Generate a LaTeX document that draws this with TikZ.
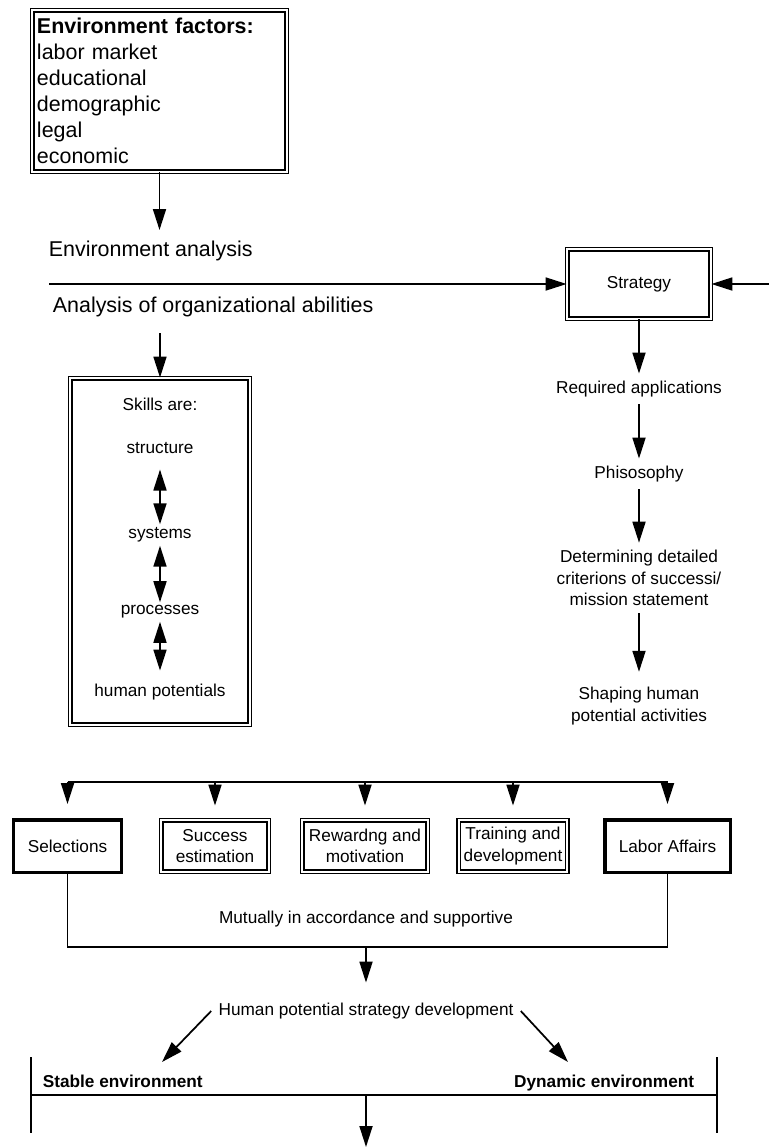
\documentclass[tikz,border=0pt]{standalone}
\usepackage{fontspec}
\setmainfont{Liberation Sans}
\usetikzlibrary{positioning,arrows.meta}

\newcommand{\bigsz}{\fontsize{12.2pt}{14.8pt}\selectfont}
\newcommand{\smallsz}{\fontsize{9.8pt}{12.3pt}\selectfont}

\begin{document}
\begin{tikzpicture}[x=0.2mm,y=-0.2mm,line width=0.35mm,
    >={Triangle[length=4.2mm,width=2.6mm]},
    dbox/.style={draw,double,double distance=0.4mm,line width=0.26mm,
      inner sep=1mm,align=center,font=\smallsz},
    tbox/.style={draw,line width=0.7mm,inner sep=1mm,align=center,font=\smallsz},
    lbl/.style={inner sep=1.3mm,align=center,font=\smallsz},
    item/.style={inner sep=0.5mm,font=\smallsz}]
  \useasboundingbox (0,0) rectangle (769,1147);

  % top part
  \node[dbox,font=\bigsz,align=left,text width=49mm,inner xsep=0.5mm,
        minimum width=50.9mm,minimum height=32.3mm] (EnvFactors) at (159.5,91)
        {\textbf{Environment factors:}\\labor market\\educational\\demographic\\legal\\economic};
  \node[font=\bigsz,anchor=base west,inner sep=0pt] (EnvAnalysis) at (48,256) {Environment analysis};
  \node[font=\bigsz,anchor=base west,inner sep=0pt] (OrgAnalysis) at (52,312) {Analysis of organizational abilities};
  \node[dbox,minimum width=28.7mm,minimum height=13.9mm] (Strategy) at (639,284) {Strategy};

  \coordinate (EnvTip)   at (159.5,230);
  \coordinate (LineL)    at (49,284);
  \coordinate (LineR)    at (769,284);
  \coordinate (SkillsIn) at (160,333);

  \draw[->] (EnvFactors) -- (EnvTip);
  \draw[->] (LineL) -- (Strategy);
  \draw[->] (LineR) -- (Strategy);

  % skills
  \node[dbox,minimum width=35.9mm,minimum height=69.3mm] (Skills) at (160,551.5) {};
  \node[item] (SkillsAre)  at (160,404) {Skills are:};
  \node[item] (Structure)  at (160,448) {structure};
  \node[item] (Systems)    at (160,535) {systems};
  \node[item] (Processes)  at (160,612) {processes};
  \node[item] (HumanPot)   at (160,692) {human potentials};

  \draw[->] (SkillsIn) -- (Skills);
  \path[<->]
    (Structure) edge[shorten <=2.5mm] (Systems)
    (Systems)   edge                  (Processes)
    (Processes) edge[shorten >=2mm]   (HumanPot);

  % strategy chain
  \node[lbl] (ReqApp)   at (639,389) {Required applications};
  \node[lbl] (Philo)    at (639,474) {Phisosophy};
  \node[lbl] (Criteria) at (639,578) {Determining detailed\\criterions of successi/\\mission statement};
  \node[lbl] (Shaping)  at (639,706) {Shaping human\\potential activities};

  \path[->]
    (Strategy) edge                    (ReqApp)
    (ReqApp)   edge                    (Philo)
    (Philo)    edge                    (Criteria)
    (Criteria) edge[shorten >=1.6mm]   (Shaping);

  % activities
  \node[tbox,minimum width=21.5mm,minimum height=10.5mm] (Selections) at (67.5,846) {Selections};
  \node[dbox,minimum width=21.5mm,minimum height=10.3mm] (Success)    at (215,846)  {Success\\estimation};
  \node[dbox,minimum width=25.1mm,minimum height=10.3mm] (Rewarding)  at (365,846)  {Rewardng and\\motivation};
  \node[dbox,minimum width=21.5mm,minimum height=10.3mm] (Training)   at (513,846)  {Training and\\development};
  \node[tbox,minimum width=25.1mm,minimum height=10.5mm] (Labor)      at (667.5,846) {Labor Affairs};

  \coordinate (BusL) at (67.5,782);
  \coordinate (BusR) at (667.5,782);
  \draw (BusL) -- (BusR);
  \foreach \n in {Selections,Success,Rewarding,Training,Labor}
    \draw[->,shorten >=2.8mm] (\n.north |- BusL) -- (\n.north);

  \coordinate (Join) at (366,947);
  \draw (Selections.south) |- (Join) -| (Labor.south);
  \node[lbl] (Mutually) at (366,919) {Mutually in accordance and supportive};

  % environment
  \node[lbl] (HPSD) at (366,1011) {Human potential strategy development};
  \draw[->,shorten >=2.6mm] (Join) -- (HPSD);

  \coordinate (StableTip) at (162,1062);
  \coordinate (DynTip)    at (568,1062);
  \draw[->] (HPSD.west) -- (StableTip);
  \draw[->] (HPSD.east) -- (DynTip);

  \coordinate (BarL)   at (31,1095);
  \coordinate (BarR)   at (717,1095);
  \coordinate (BarMid) at (366,1095);
  \coordinate (Out)    at (366,1147);
  \draw (BarL) -- (BarR);
  \draw (BarL) ++(0,-38) -- ++(0,76);
  \draw (BarR) ++(0,-38) -- ++(0,76);
  \draw[->] (BarMid) -- (Out);

  \node[font=\smallsz\bfseries,anchor=base west,inner sep=0pt] (Stable)  at (42,1087)  {Stable environment};
  \node[font=\smallsz\bfseries,anchor=base east,inner sep=0pt] (Dynamic) at (695,1087) {Dynamic environment};
\end{tikzpicture}
\end{document}
